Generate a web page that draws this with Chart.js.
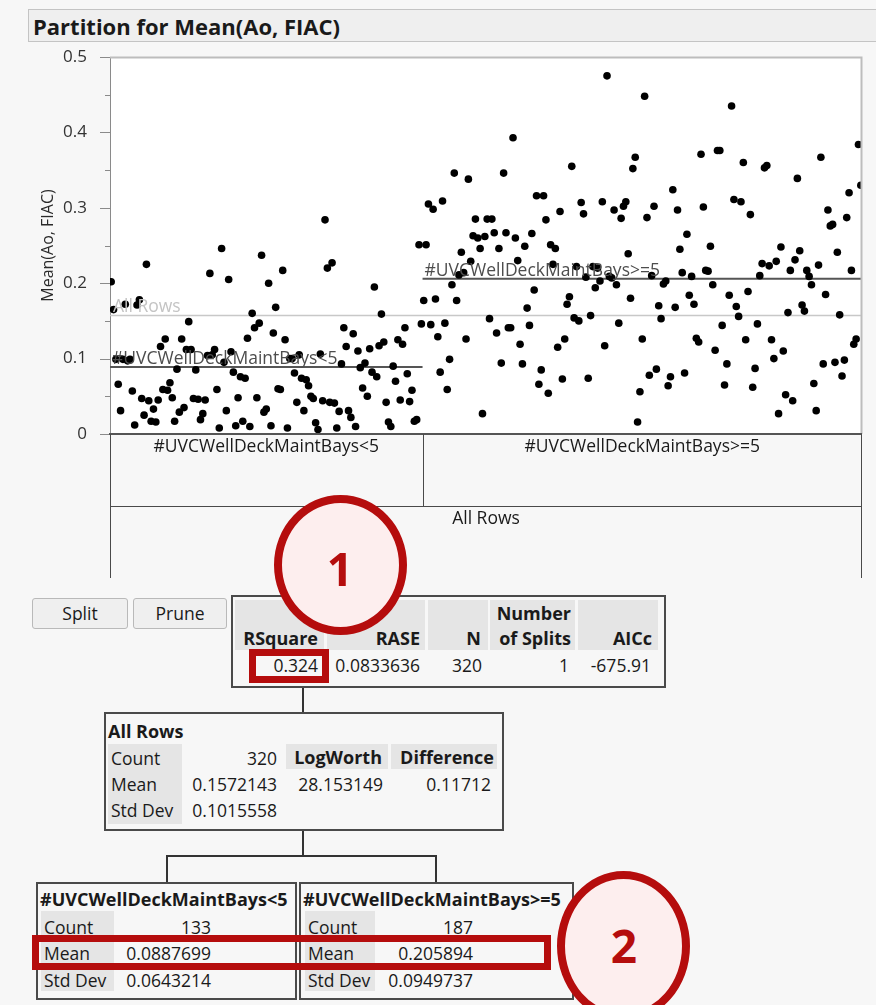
<!DOCTYPE html>
<html><head><meta charset="utf-8">
<script src="https://cdn.jsdelivr.net/npm/chart.js@4.4.0/dist/chart.umd.min.js"></script>
<style>
html,body{margin:0;padding:0;}
body{width:876px;height:1005px;background:#f7f7f7;position:relative;overflow:hidden;font-family:"Open Sans",sans-serif;color:#1a1a1a;}
.t{position:absolute;white-space:nowrap;line-height:22px;height:22px;font-size:17.5px;}
.b{font-weight:bold;font-size:18px;}
.box{position:absolute;border:2px solid #4a4a4a;box-sizing:border-box;}
.g{position:absolute;background:#e5e5e5;}
.ln{position:absolute;background:#333;}
.btn{position:absolute;border:1px solid #b9b9b9;border-radius:3px;background:#efefef;box-sizing:border-box;text-align:center;font-size:17.5px;line-height:28px;}
.circ{position:absolute;border:8px solid #b50d0d;background:#fdeeee;border-radius:50%;box-sizing:border-box;z-index:5;}
.num{position:absolute;color:#b50d0d;font-weight:bold;font-size:46px;line-height:50px;z-index:6;width:100px;text-align:center;}
.rect{position:absolute;border:7px solid #b50d0d;box-sizing:border-box;z-index:5;}
#titlebar{position:absolute;left:28px;top:9px;width:870px;height:33px;border:1px solid #c4c4c4;background:#efefef;box-sizing:border-box;}
#wrap{position:absolute;left:0;top:44px;width:876px;height:536px;}
</style></head><body>
<div id="titlebar"></div>
<div class="t" style="left:33px;top:13px;font-size:22px;font-weight:bold;line-height:26px;height:26px;">Partition for Mean(Ao, FIAC)</div>
<div id="wrap"><canvas id="c" width="876" height="536"></canvas></div>

<div class="btn" style="left:32px;top:598px;width:96px;height:31px;">Split</div>
<div class="btn" style="left:133px;top:598px;width:94px;height:31px;">Prune</div>

<div id="tables"></div>

<div class="circ" style="left:274px;top:495px;width:133px;height:140px;"></div>
<div class="num" style="left:290px;top:543px;">1</div>
<div class="rect" style="left:249px;top:649px;width:80px;height:34px;"></div>
<div class="circ" style="left:557px;top:871px;width:133px;height:150px;"></div>
<div class="num" style="left:574px;top:920px;">2</div>
<div class="rect" style="left:32px;top:935px;width:519px;height:35px;"></div>

<script>
// ---- data ----
const groupLabels = ['#UVCWellDeckMaintBays<5', '#UVCWellDeckMaintBays>=5'];
const allRowsLabel = 'All Rows';
const allMean = 0.1572143;
const groupMeans = [0.0887699, 0.205894];
const yTicks = [0, 0.1, 0.2, 0.3, 0.4, 0.5];

const leftVals = [0.202,0.165,0.099,0.066,0.031,0.099,0.172,0.097,0.099,0.057,0.012,0.171,0.178,0.047,0.025,0.225,0.044,0.017,0.033,0.016,
0.045,0.116,0.059,0.126,0.058,0.068,0.048,0.017,0.086,0.029,0.126,0.035,0.112,0.149,0.112,0.047,0.085,0.046,0.019,0.027,
0.045,0.104,0.213,0.105,0.112,0.059,0.008,0.246,0.095,0.031,0.205,0.109,0.082,0.011,0.048,0.076,0.017,0.074,0.127,0.010,
0.160,0.141,0.048,0.147,0.237,0.029,0.033,0.200,0.011,0.134,0.168,0.060,0.059,0.217,0.125,0.008,0.100,0.100,0.081,0.042,
0.105,0.074,0.031,0.072,0.064,0.050,0.047,0.015,0.006,0.106,0.044,0.284,0.220,0.042,0.227,0.041,0.008,0.030,0.093,0.141,
0.116,0.031,0.022,0.133,0.010,0.110,0.088,0.061,0.094,0.050,0.113,0.082,0.195,0.076,0.117,0.159,0.122,0.042,0.016,0.010,
0.090,0.070,0.125,0.045,0.119,0.141,0.080,0.043,0.058,0.017,0.019,0.251,0.146];

const rightVals = [0.177,0.251,0.305,0.145,0.298,0.179,0.129,0.082,0.309,0.147,0.059,0.099,0.198,0.346,0.177,0.211,0.241,0.214,0.126,0.338,
0.229,0.263,0.285,0.260,0.246,0.027,0.262,0.285,0.153,0.285,0.267,0.134,0.246,0.094,0.346,0.267,0.141,0.141,0.393,0.260,
0.230,0.119,0.093,0.249,0.167,0.144,0.266,0.191,0.316,0.066,0.085,0.316,0.284,0.054,0.251,0.225,0.246,0.115,0.295,0.073,
0.126,0.172,0.182,0.355,0.154,0.222,0.150,0.307,0.292,0.208,0.074,0.157,0.222,0.194,0.220,0.203,0.308,0.117,0.475,0.209,
0.207,0.297,0.198,0.147,0.286,0.302,0.308,0.239,0.180,0.352,0.367,0.016,0.056,0.126,0.448,0.287,0.078,0.210,0.302,0.086,
0.170,0.153,0.199,0.203,0.064,0.076,0.324,0.168,0.297,0.245,0.214,0.081,0.265,0.184,0.209,0.172,0.127,0.122,0.371,0.301,
0.217,0.216,0.249,0.198,0.111,0.376,0.376,0.144,0.065,0.093,0.184,0.435,0.311,0.169,0.156,0.308,0.360,0.125,0.189,0.291,
0.062,0.087,0.146,0.210,0.226,0.353,0.356,0.223,0.125,0.100,0.229,0.027,0.248,0.110,0.052,0.161,0.217,0.044,0.231,0.339,
0.243,0.171,0.163,0.217,0.209,0.198,0.067,0.031,0.224,0.367,0.093,0.185,0.297,0.276,0.278,0.095,0.241,0.158,0.077,0.098,
0.287,0.320,0.217,0.119,0.126,0.384,0.330];

// summary tables
const fitHeaders = ['RSquare','RASE','N','of Splits','AICc'];
const fitValues = ['0.324','0.0833636','320','1','-675.91'];
const allRowsStats = {Count:'320', Mean:'0.1572143', 'Std Dev':'0.1015558'};
const splitHeaders = ['LogWorth','Difference'];
const splitValues = ['28.153149','0.11712'];
const childStats = [['133','0.0887699','0.0643214'],['187','0.205894','0.0949737']];
const statNames = ['Count','Mean','Std Dev'];

// ---- build HTML tables ----
const host = document.getElementById('tables');
function el(cls, css, txt){ const d=document.createElement('div'); d.className=cls; d.style.cssText=css; if(txt!==undefined) d.textContent=txt; host.appendChild(d); return d; }
function T(txt,x,cy,align,bold){
  const cls = 't'+(bold?' b':'');
  if(align==='r') return el(cls,`right:${876-x}px;top:${cy-11}px;`,txt);
  return el(cls,`left:${x}px;top:${cy-11}px;`,txt);
}
// fit table
el('box','left:231px;top:595px;width:435px;height:93px;');
[[235,89],[327,98],[428,60],[490,85],[578,80]].forEach(([l,w])=>el('g',`left:${l}px;top:600px;width:${w}px;height:50px;`));
const fitRight=[318,420,481,571,652];
fitHeaders.forEach((h,i)=>T(h,fitRight[i],638,'r',true));
T('Number',571,613,'r',true);
const fitValRight=[318,420,482,569,651];
fitValues.forEach((v,i)=>T(v,fitValRight[i],665,'r'));
el('ln','left:302px;top:688px;width:2px;height:24px;');
// All rows node
el('box','left:104px;top:712px;width:400px;height:119px;');
T(allRowsLabel,108,731,'l',true);
el('g','left:108px;top:744px;width:74px;height:80px;');
el('g','left:286px;top:744px;width:102px;height:25px;');
el('g','left:391px;top:744px;width:106px;height:25px;');
const rowCy=[758,784,810];
statNames.forEach((n,i)=>{T(n,111,rowCy[i],'l'); T(allRowsStats[n],277,rowCy[i],'r');});
T(splitHeaders[0],382,757,'r',true); T(splitHeaders[1],494,757,'r',true);
T(splitValues[0],383,784,'r'); T(splitValues[1],491,784,'r');
// connectors
el('ln','left:302px;top:831px;width:2px;height:25px;');
el('ln','left:166px;top:855px;width:271px;height:2px;');
el('ln','left:166px;top:855px;width:2px;height:27px;');
el('ln','left:435px;top:855px;width:2px;height:27px;');
// child nodes
const childBox=[[36,261,41,73,44,211],[299,275,305,70,308,473]];
const childCy=[927,953,980];
childBox.forEach(([l,w,gl,gw,tl,vr],k)=>{
  el('box',`left:${l}px;top:882px;width:${w}px;height:118px;`);
  T(groupLabels[k],l+4,899,'l',true);
  el('g',`left:${gl}px;top:911px;width:${gw}px;height:80px;`);
  statNames.forEach((n,i)=>{T(n,tl,childCy[i],'l'); T(childStats[k][i],vr,childCy[i],'r');});
});

// ---- chart ----
const pts = leftVals.concat(rightVals).map((v,i)=>({x:i,y:v}));
const nL = leftVals.length, nT = pts.length;
const jmp = {
  id:'jmp',
  beforeDraw(chart){
    const {ctx,chartArea:a}=chart;
    ctx.save(); ctx.fillStyle='#fff'; ctx.fillRect(a.left,a.top,a.right-a.left,a.bottom-a.top); ctx.restore();
  },
  afterDatasetsDraw(chart){
    const {ctx,chartArea:a,scales:{x:xs,y:ys}}=chart;
    ctx.save();
    ctx.font='17.5px "Open Sans"';
    ctx.textBaseline='alphabetic'; ctx.textAlign='left';
    ctx.fillStyle='#c4c4c4';
    ctx.fillText(allRowsLabel,a.left+3,ys.getPixelForValue(allMean)-3);
    ctx.fillStyle='#4d4d4d';
    ctx.fillText(groupLabels[0],xs.getPixelForValue(-0.5)+2,ys.getPixelForValue(groupMeans[0])-3);
    ctx.fillText(groupLabels[1],xs.getPixelForValue(nL-0.5)+2,ys.getPixelForValue(groupMeans[1])-3);
    ctx.restore();
  },
  afterDraw(chart){
    const {ctx,chartArea:a,scales:{x:xs,y:ys}}=chart;
    ctx.save();
    // frame top/right
    ctx.strokeStyle='#bdbdbd'; ctx.lineWidth=2;
    ctx.beginPath(); ctx.moveTo(a.left,a.top+0.5); ctx.lineTo(a.right-0.5,a.top+0.5); ctx.lineTo(a.right-0.5,a.bottom); ctx.stroke();
    // ticks
    ctx.strokeStyle='#8a8a8a'; ctx.lineWidth=1;
    for(let k=0;k<=10;k++){
      const v=k*0.05, y=Math.round(ys.getPixelForValue(v))+0.5, len=(k%2===0)?10:5;
      ctx.beginPath(); ctx.moveTo(a.left-len,y); ctx.lineTo(a.left,y); ctx.stroke();
    }
    // partition boxes under the plot
    const L=a.left, R=a.right, B=a.bottom, split=xs.getPixelForValue(nL-0.5);
    ctx.strokeStyle='#555'; ctx.lineWidth=2;
    ctx.beginPath(); ctx.moveTo(L-1,B); ctx.lineTo(R,B); ctx.stroke();
    ctx.lineWidth=1; ctx.strokeStyle='#4a4a4a';
    ctx.beginPath();
    ctx.moveTo(Math.round(split)+0.5,B); ctx.lineTo(Math.round(split)+0.5,B+72);
    ctx.moveTo(L,B+72.5); ctx.lineTo(R,B+72.5);
    ctx.moveTo(L+0.5,B); ctx.lineTo(L+0.5,B+144);
    ctx.moveTo(R-0.5,B); ctx.lineTo(R-0.5,B+144);
    ctx.stroke();
    ctx.fillStyle='#1a1a1a'; ctx.font='17.5px "Open Sans"'; ctx.textAlign='center'; ctx.textBaseline='middle';
    ctx.fillText(groupLabels[0],(L+split)/2,B+13);
    ctx.fillText(groupLabels[1],(split+R)/2,B+13);
    ctx.fillText(allRowsLabel,(L+R)/2,B+85);
    ctx.restore();
  }
};

new Chart(document.getElementById('c'),{
  type:'scatter',
  data:{datasets:[
    {data:pts,backgroundColor:'#000',borderWidth:0,pointRadius:3.8,pointHoverRadius:3.8},
    {data:[{x:-0.5,y:groupMeans[0]},{x:nL-0.5,y:groupMeans[0]}],showLine:true,borderColor:'#555',borderWidth:2,pointRadius:0},
    {data:[{x:nL-0.5,y:groupMeans[1]},{x:nT-0.5,y:groupMeans[1]}],showLine:true,borderColor:'#555',borderWidth:2,pointRadius:0},
    {data:[{x:-0.5,y:allMean},{x:nT-0.5,y:allMean}],showLine:true,borderColor:'#c8c8c8',borderWidth:1.5,pointRadius:0}
  ]},
  options:{
    responsive:false,animation:false,devicePixelRatio:1,
    layout:{padding:{top:13,right:14,bottom:146,left:0}},
    plugins:{legend:{display:false},tooltip:{enabled:false}},
    scales:{
      x:{type:'linear',min:-0.5,max:nT-0.5,display:false},
      y:{min:0,max:0.5,
         afterFit(s){s.width=110; s.paddingTop=0; s.paddingBottom=0;},
         grid:{display:false},
         border:{display:true,color:'#8a8a8a',width:1},
         ticks:{stepSize:0.05,padding:15,color:'#333',font:{family:'"Open Sans"',size:17},
                callback:(v)=>{const r=Math.round(v*100); return yTicks.some(t=>Math.round(t*100)===r)?String(r/100):'';}},
         title:{display:true,text:'Mean(Ao, FIAC)',color:'#2a2a2a',font:{family:'"Open Sans"',size:16},padding:{top:39,bottom:0}}
      }
    }
  },
  plugins:[jmp]
});
</script>
</body></html>
